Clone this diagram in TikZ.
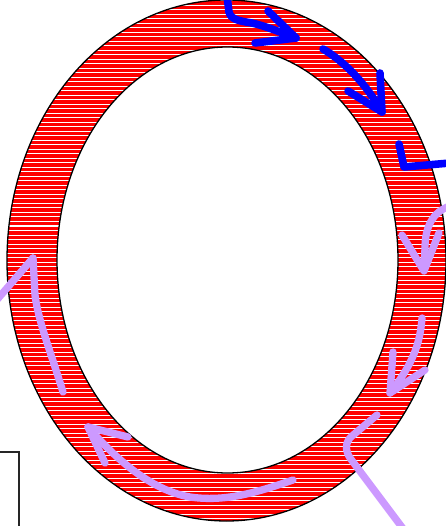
\documentclass[tikz,border=0pt]{standalone}
\definecolor{lilac}{RGB}{204,153,255}
\definecolor{pureblue}{RGB}{0,0,255}
\begin{document}
\begin{tikzpicture}[x=1pt,y=-1pt,
  bluearrow/.style={draw=pureblue,line width=7.6pt,line cap=round,line join=round},
  lilacarrow/.style={draw=lilac,line width=7.3pt,line cap=round,line join=round}]
\useasboundingbox (0,0) rectangle (445,526);
% ring fill
\begin{scope}
  \clip (226.5,260.5) ellipse [x radius=219.5pt, y radius=260.5pt];
  \fill[red] (0,0) rectangle (450,530);
  \foreach \i in {0,...,118} \draw[white,line width=1pt] (0,\i*4.5+1) -- (450,\i*4.5+1);
\end{scope}
\fill[white] (227.5,260) ellipse [x radius=170.5pt, y radius=213pt];
\draw[black,line width=1.3pt] (226.5,260.5) ellipse [x radius=219.5pt, y radius=260.5pt];
\draw[black,line width=1.3pt] (227.5,260) ellipse [x radius=170.5pt, y radius=213pt];
% partial box
\draw[black!85,line width=1.4pt] (-3,452) -- (19,452) -- (19,530);
% blue arrows
\path[bluearrow] (227,-4) -- (229,12) .. controls (231,20) and (240,21) .. (252,23) .. controls (265,26) and (280,32) .. (296,38);
\path[bluearrow] (268,11) -- (296,38) -- (255,43);
\path[bluearrow] (323,49) .. controls (345,62) and (366,84) .. (382,112);
\path[bluearrow] (380,73) -- (382,112) -- (348,91);
\path[bluearrow] (399,144) -- (404,167) -- (450,163);
% lilac arrows
\path[lilacarrow] (450,206) .. controls (432,212) and (425,228) .. (425,248) -- (424,270);
\path[lilacarrow] (402,235) -- (424,271) -- (439,233);
\path[lilacarrow] (422,318) .. controls (420,345) and (412,365) .. (390,393);
\path[lilacarrow] (393,352) -- (390,393) -- (425,370);
\path[lilacarrow] (377,415) -- (352,436) .. controls (345,442) and (345,450) .. (350,458) -- (404,530);
\path[lilacarrow] (293,480) .. controls (255,493) and (225,502) .. (190,497) .. controls (150,490) and (115,458) .. (88,427);
\path[lilacarrow] (128,437) -- (88,427) -- (105,463);
\path[lilacarrow] (63,392) .. controls (50,350) and (38,320) .. (35,295) -- (33,258);
\path[lilacarrow] (-5,302) -- (33,258);
\end{tikzpicture}
\end{document}
